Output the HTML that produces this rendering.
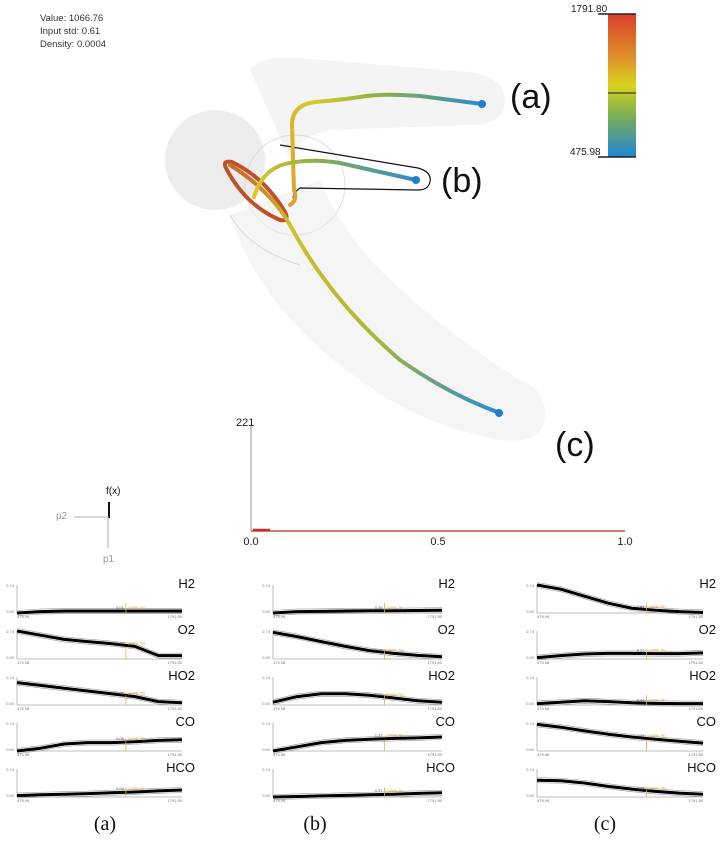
<!DOCTYPE html>
<html><head><meta charset="utf-8">
<style>
body{margin:0;background:#fff;}
svg{display:block;font-family:"Liberation Sans",sans-serif;}
</style></head>
<body>
<svg id="fig" width="720" height="843" viewBox="0 0 720 843">
<defs>
<linearGradient id="cbar" x1="0" y1="0" x2="0" y2="1">
<stop offset="0" stop-color="#d9412b"/><stop offset="0.3" stop-color="#e08f2a"/><stop offset="0.5" stop-color="#d8d21e"/><stop offset="0.7" stop-color="#7fb050"/><stop offset="1" stop-color="#1f86d6"/></linearGradient>
<linearGradient id="ga" gradientUnits="userSpaceOnUse" x1="292" y1="200" x2="482" y2="104">
<stop offset="0" stop-color="#e0a030"/><stop offset="0.3" stop-color="#d8c82a"/><stop offset="0.6" stop-color="#8fb048"/><stop offset="1" stop-color="#2b8ad0"/></linearGradient>
<linearGradient id="gb" gradientUnits="userSpaceOnUse" x1="255" y1="195" x2="416" y2="180">
<stop offset="0" stop-color="#d8c82a"/><stop offset="0.4" stop-color="#8fb048"/><stop offset="1" stop-color="#2b8ad0"/></linearGradient>
<linearGradient id="gc" gradientUnits="userSpaceOnUse" x1="240" y1="180" x2="500" y2="413">
<stop offset="0" stop-color="#c8702a"/><stop offset="0.2" stop-color="#d0c02a"/><stop offset="0.6" stop-color="#a8b838"/><stop offset="1" stop-color="#2b8ad0"/></linearGradient>
</defs>

<g font-size="9.5" fill="#333">
<text x="40" y="21">Value: 1066.76</text>
<text x="40" y="34">Input std: 0.61</text>
<text x="40" y="47">Density: 0.0004</text>
</g>

<g>
<path d="M250,70 Q260,55 300,58 L470,72 Q505,78 505,100 Q505,125 470,125 L330,130 Q300,135 290,160 Z" fill="#ececec" opacity="0.6"/>
<circle cx="215" cy="160" r="50" fill="#e6e6e6" opacity="0.7"/>
<ellipse cx="295" cy="185" rx="50" ry="50" fill="none" stroke="#d4d4d4" stroke-width="1" opacity="0.8"/>
<path d="M230,215 Q260,310 360,380 Q420,425 500,440 Q540,445 545,420 Q548,390 520,380 Q440,330 370,260 Q330,210 320,180 Z" fill="#ececec" opacity="0.55"/>
<path d="M230,215 Q250,250 300,265" fill="none" stroke="#d8d8d8" stroke-width="1"/>
<path d="M280,145 L418,168 Q432,172 430,182 Q428,190 418,190 L300,188 Q294,192 293,198" fill="none" stroke="#111" stroke-width="1.2"/>
<path d="M226,168 Q222,160 232,162 Q265,178 285,212 Q290,222 280,220 Q245,205 226,168 Z" fill="none" stroke="#c0502a" stroke-width="4"/>
<path d="M230,165 Q270,190 290,225 Q330,300 400,360 Q450,395 500,413" fill="none" stroke="url(#gc)" stroke-width="4" stroke-linecap="round"/>
<path d="M290,205 Q298,200 294,190 L292,125 Q292,105 315,102 Q340,100 360,97 Q380,93 420,96 L482,104" fill="none" stroke="url(#ga)" stroke-width="4" stroke-linecap="round"/>
<path d="M254,197 Q262,170 285,164 Q310,158 340,163 L416,180" fill="none" stroke="url(#gb)" stroke-width="4" stroke-linecap="round"/>
<circle cx="482" cy="104" r="4" fill="#1f7fc8"/>
<circle cx="416" cy="180" r="4" fill="#1f7fc8"/>
<circle cx="499" cy="413" r="4" fill="#1f7fc8"/>
<text x="510" y="108" font-size="34" fill="#111">(a)</text>
<text x="441" y="192" font-size="34" fill="#111">(b)</text>
<text x="555" y="456" font-size="34" fill="#111">(c)</text>
</g>

<g>
<rect x="608" y="14" width="28" height="143" fill="url(#cbar)"/>
<line x1="598" y1="14" x2="636" y2="14" stroke="#222" stroke-width="1.5"/>
<line x1="598" y1="157" x2="636" y2="157" stroke="#222" stroke-width="1.5"/>
<line x1="608" y1="93" x2="636" y2="93" stroke="#222" stroke-width="1"/>
<text x="571" y="12" font-size="10" fill="#222">1791.80</text>
<text x="570" y="155" font-size="10" fill="#222">475.98</text>
</g>

<g font-size="10">
<text x="106" y="494" fill="#111">f(x)</text>
<line x1="109" y1="502" x2="109" y2="518" stroke="#111" stroke-width="2"/>
<line x1="74" y1="517" x2="109" y2="517" stroke="#999" stroke-width="0.8"/>
<line x1="108" y1="518" x2="108" y2="548" stroke="#999" stroke-width="0.8"/>
<text x="56" y="519" fill="#999">p2</text>
<text x="103" y="562" fill="#999">p1</text>
</g>

<g id="hist" font-size="11" fill="#222"></g>

<g id="panels"></g>

<g font-family="Liberation Serif, serif" font-size="20" fill="#111" text-anchor="middle">
<text x="105" y="830">(a)</text>
<text x="315" y="830">(b)</text>
<text x="605" y="830">(c)</text>
</g>
</svg>
<script>
const histTicks = ["0.0","0.5","1.0"];
const histMax = "221";
const species = ["H2","O2","HO2","CO","HCO"];
const seriesA = [
 [0,0.05,0.07,0.07,0.07,0.07,0.07,0.07],
 [1,0.85,0.7,0.62,0.55,0.45,0.12,0.12],
 [0.8,0.7,0.6,0.5,0.4,0.3,0.12,0.08],
 [0,0.1,0.25,0.3,0.3,0.33,0.38,0.4],
 [0.05,0.08,0.1,0.12,0.15,0.18,0.22,0.25]];
const seriesB = [
 [0,0.05,0.06,0.07,0.08,0.08,0.09,0.1],
 [0.95,0.8,0.62,0.45,0.3,0.2,0.13,0.08],
 [0.1,0.3,0.4,0.4,0.35,0.25,0.15,0.1],
 [0,0.15,0.3,0.38,0.42,0.45,0.47,0.5],
 [0,0.02,0.04,0.06,0.08,0.1,0.13,0.15]];
const seriesC = [
 [1,0.85,0.6,0.35,0.17,0.1,0.05,0.02],
 [0.05,0.12,0.18,0.2,0.2,0.19,0.19,0.22],
 [0.05,0.1,0.15,0.12,0.08,0.06,0.05,0.05],
 [0.95,0.85,0.72,0.6,0.5,0.42,0.35,0.28],
 [0.6,0.58,0.5,0.38,0.28,0.2,0.14,0.1]];
const printedA = ["0.01","0.44","0.26","0.05","0.06"];
const printedB = ["0.46","0.41","0.36","1.37","0.37"];
const printedC = ["1.41","0.21","0.41","2.71","1.18"];
const NS="http://www.w3.org/2000/svg";
function mk(t,a,p){const e=document.createElementNS(NS,t);for(const k in a)e.setAttribute(k,a[k]);p.appendChild(e);return e;}

const hg=document.getElementById('hist');
const hx=v=>251+v*374, hy0=531;
mk('line',{x1:251,y1:426,x2:251,y2:hy0,stroke:'#999','stroke-width':1},hg);
mk('line',{x1:251,y1:hy0,x2:625,y2:hy0,stroke:'#c0503a','stroke-width':1.5},hg);
mk('line',{x1:253,y1:hy0-1,x2:270,y2:hy0-1,stroke:'#c0302a','stroke-width':2.5},hg);
const ym=mk('text',{x:236,y:426,'font-size':11},hg);ym.textContent=histMax;
histTicks.forEach((t,i)=>{const v=i/(histTicks.length-1);
 const tx=mk('text',{x:hx(v),y:545,'text-anchor':'middle'},hg);
 
 
 tx.textContent=t;});

const pg=document.getElementById('panels');
const cols=[{l:17,r:182,s:seriesA,p:printedA},{l:273,r:442,s:seriesB,p:printedB},{l:537,r:703,s:seriesC,p:printedC}];
const bases=[613,659,705,751,797];
cols.forEach((c,ci)=>{
 species.forEach((sp,si)=>{
  const b=bases[si], top=b-28;
  const g=mk('g',{},pg);
  
  
  mk('line',{x1:c.l,y1:top,x2:c.l,y2:b,stroke:'#aaa','stroke-width':0.8},g);
  mk('line',{x1:c.l,y1:b,x2:c.r,y2:b,stroke:'#aaa','stroke-width':0.8},g);
  const lab=mk('text',{x:c.r+13,y:top+3,'font-size':13,'text-anchor':'end',fill:'#111'},g);
  lab.textContent=sp;
  const xs=v=>c.l+v*(c.r-c.l), ys=v=>b-v*(b-top);
  const d=c.s[si];
  const pts=d.map((v,i)=>xs(i/(d.length-1))+','+ys(v)).join(' ');
  const up=d.map((v,i)=>xs(i/(d.length-1))+','+(ys(v)-2.5)).join(' ');
  const dn=d.map((v,i)=>xs(i/(d.length-1))+','+(ys(v)+2.5)).join(' ');
  mk('polyline',{points:up,fill:'none',stroke:'#999','stroke-width':0.6},g);
  mk('polyline',{points:dn,fill:'none',stroke:'#999','stroke-width':0.6},g);
  const ln=mk('polyline',{points:pts,fill:'none',stroke:'#000','stroke-width':3,'stroke-linejoin':'round'},g);
  
  
  const mx=xs(0.66);
  mk('line',{x1:mx,y1:b-10,x2:mx,y2:b,stroke:'#e0b040','stroke-width':0.8},g);
  const pv=mk('text',{x:mx-2,y:ys(d[5])-2,'font-size':4,'text-anchor':'end',fill:'#555'},g);pv.textContent=c.p[si];
  const pv2=mk('text',{x:mx+2,y:ys(d[5])-2,'font-size':4,fill:'#d8a030'},g);pv2.textContent='(1066.76)';
  const t1=mk('text',{x:c.l-3,y:top+2,'font-size':4,'text-anchor':'end',fill:'#777'},g);t1.textContent='2.74';
  const t2=mk('text',{x:c.l-3,y:b,'font-size':4,'text-anchor':'end',fill:'#777'},g);t2.textContent='0.00';
  const t3=mk('text',{x:c.l,y:b+5,'font-size':4,fill:'#777'},g);t3.textContent='475.98';
  const t4=mk('text',{x:c.r,y:b+5,'font-size':4,'text-anchor':'end',fill:'#777'},g);t4.textContent='1791.80';
 });
});
</script>
</body></html>
